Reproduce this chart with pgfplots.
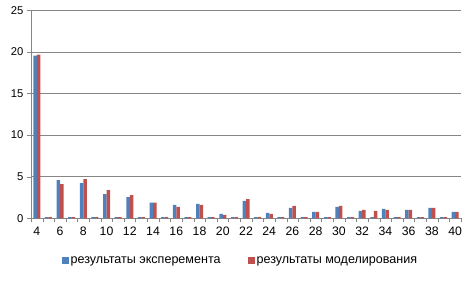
\documentclass[border=0pt]{standalone}
\usepackage{pgfplots}
\pgfplotsset{compat=1.18}
\usepackage{fontspec}
\setmainfont{Liberation Sans}
\definecolor{xblue}{HTML}{4F81BD}
\definecolor{xred}{HTML}{C0504D}
\definecolor{xgrid}{HTML}{868686}
\begin{document}
\begin{tikzpicture}[x=1bp,y=1bp]
\path (0,0) rectangle (473,280);
\begin{axis}[
  at={(31bp,61.7bp)}, anchor=south west,
  scale only axis, width=430bp, height=208bp,
  xmin=3.5, xmax=40.5, ymin=0, ymax=25,
  ybar=0pt, bar width=3.5bp,
  axis lines*=left,
  axis line style={xgrid},
  xtick={4,6,...,40},
  major x tick style={draw=none},
  minor xtick={3.5,4.5,...,40.5},
  minor x tick style={xgrid},
  minor tick length=4bp,
  xtick align=outside,
  ytick={0,5,...,25},
  ytick align=outside,
  major tick length=4bp,
  y tick style={xgrid},
  ymajorgrids, grid style={xgrid, line width=0.8pt},
  yticklabel style={font=\fontsize{11.3}{12}\selectfont},
  xticklabel style={font=\fontsize{12.3}{13}\selectfont, yshift=-1bp},
  /pgf/number format/assume math mode=true,
  legend style={at={(0.487,-0.205)}, anchor=center, draw=none,
    font=\fontsize{12.6}{14}\selectfont, legend columns=2,
    /tikz/every even column/.append style={column sep=25bp}},
  legend image code/.code={\fill[#1] (-2bp,-3.5bp) rectangle (5bp,3.5bp);},
]
\addplot[fill=xblue, draw=none] coordinates {
(4,19.55) (5,0.15) (6,4.6) (7,0.15) (8,4.24) (9,0.15) (10,2.92) (11,0.15) (12,2.56) (13,0.15)
(14,1.88) (15,0.15) (16,1.6) (17,0.15) (18,1.72) (19,0.15) (20,0.52) (21,0.15) (22,2.08) (23,0.15)
(24,0.64) (25,0.15) (26,1.24) (27,0.15) (28,0.76) (29,0.15) (30,1.36) (31,0.15) (32,0.88) (33,0.15)
(34,1.12) (35,0.15) (36,1.0) (37,0.15) (38,1.24) (39,0.15) (40,0.76)};
\addlegendentry{результаты эксперемента}
\addplot[fill=xred, draw=none] coordinates {
(4,19.66) (5,0.15) (6,4.12) (7,0.15) (8,4.72) (9,0.15) (10,3.4) (11,0.15) (12,2.8) (13,0.15)
(14,1.88) (15,0.15) (16,1.36) (17,0.15) (18,1.6) (19,0.15) (20,0.4) (21,0.15) (22,2.32) (23,0.15)
(24,0.52) (25,0.15) (26,1.48) (27,0.15) (28,0.76) (29,0.15) (30,1.48) (31,0.15) (32,1.0) (33,0.88)
(34,1.0) (35,0.15) (36,1.0) (37,0.15) (38,1.24) (39,0.15) (40,0.76)};
\addlegendentry{результаты моделирования}
\end{axis}
\end{tikzpicture}
\end{document}
